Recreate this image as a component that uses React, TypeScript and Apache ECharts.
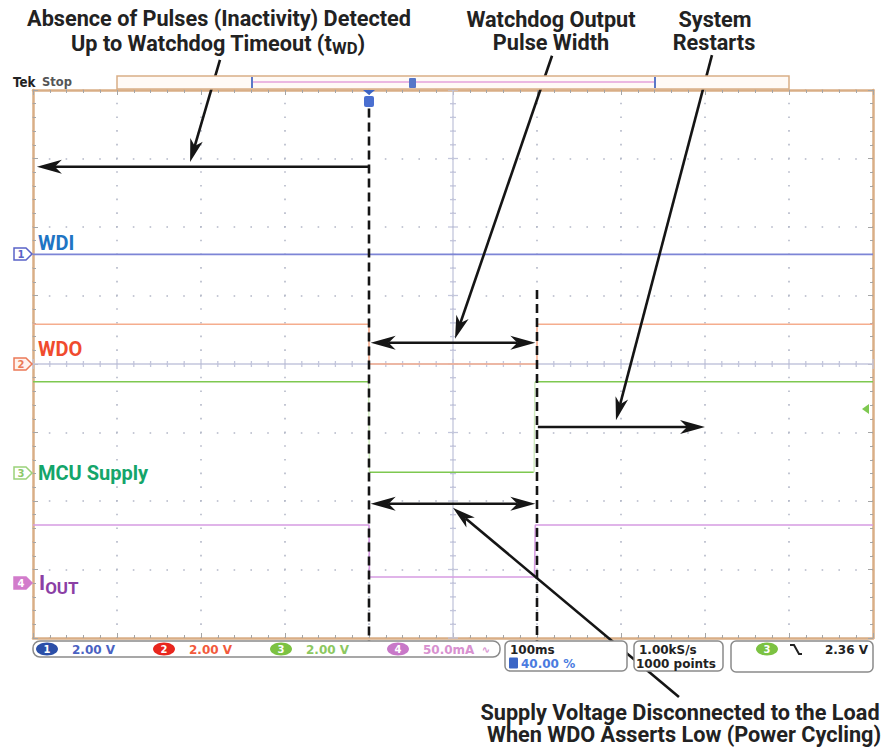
import React, { useEffect, useRef } from 'react';
import * as echarts from 'echarts';

// ---------------- data (time in ms, vertical position in screen divisions) ----------------
const timeMs = [0, 400, 400, 600, 600, 1000];
const wdiDiv = [1.6, 1.6, 1.6, 1.6, 1.6, 1.6];
const wdoDiv = [0.58, 0.58, 0, 0, 0.58, 0.58];
// MCU supply: flat levels (null = break) and its faint transition edges
const mcuTimeMs = [0, 399, null, 401, 596, null, 598, 1000];
const mcuDiv = [-0.26, -0.26, null, -1.58, -1.58, null, -0.26, -0.26];
const mcuEdgeTimeMs = [399.5, 400.5, null, 596.5, 597.5];
const mcuEdgeDiv = [-0.26, -1.58, null, -1.58, -0.26];
const ioutTimeMs = [0, 400, 400.5, 597, 598, 1000];
const ioutDiv = [-2.35, -2.35, -3.11, -3.11, -2.35, -2.35];

const channelNames = ['WDI', 'WDO', 'MCU Supply', 'IOUT'];
const channelScales = ['2.00 V', '2.00 V', '2.00 V', '50.0mA'];
const timebase = '100ms';
const triggerPos = '40.00 %';
const sampleRate = '1.00kS/s';
const recordLength = '1000 points';
const triggerLevel = '2.36 V';

// dashed markers (x in ms, y from/to in div)
const dashedX = [400, 600];
const dashedTop = [3.73, 1.08];
const dashedBottom = [-4.05, -4.05];

// arrows (ms, div)
const arrowFrom = [[400, 2.88], [402, 0.31], [402, -2.04], [601, -0.92], [222.6, 4.44], [617.9, 4.5], [808.3, 4.51], [769, -4.86]];
const arrowTo = [[4.6, 2.88], [598, 0.31], [598, -2.04], [800, -0.92], [187, 2.95], [502.4, 0.37], [694, -0.82], [500, -2.1]];
const arrowDouble = [0, 1, 1, 0, 0, 0, 0, 0];

const annoLines = [
  ['Absence of Pulses (Inactivity) Detected', 'Up to Watchdog Timeout (t'],
  ['Watchdog Output', 'Pulse Width'],
  ['System', 'Restarts'],
  ['Supply Voltage Disconnected to the Load', 'When WDO Asserts Low (Power Cycling)'],
];

// ---------------- styles ----------------
const FONT = 'Roboto';
const SCOPE_FONT = 'DejaVu Sans';
const borderColor = '#d9ae86';
const tickColor = '#a5a5a5';
const colWdiTrace = '#7d85d6';
const colWdoTrace = '#f5ad8e';
const colMcuTrace = '#7ec850';
const colMcuEdge = '#cfeabd';
const colIoutTrace = '#d69ce2';

function mkX(pos: string) {
  return {
    type: 'value', min: 0, max: 1000, interval: 100, position: pos, gridIndex: 0,
    axisLine: { show: true, onZero: false, lineStyle: { color: borderColor, width: 2.5 } },
    axisTick: { show: true, inside: true, length: 5, lineStyle: { color: tickColor, width: 1 } },
    minorTick: { show: true, splitNumber: 5, length: 3, lineStyle: { color: tickColor, width: 1 } },
    axisLabel: { show: false },
    splitLine: { show: pos === 'bottom', lineStyle: { color: '#b4b8c8', width: 1.6, type: [1.6, 12.1], dashOffset: 0.8 } },
  };
}
function mkY(pos: string) {
  return {
    type: 'value', min: -4, max: 4, interval: 1, position: pos, gridIndex: 0,
    axisLine: { show: true, onZero: false, lineStyle: { color: borderColor, width: 2.5 } },
    axisTick: { show: true, inside: true, length: 5, lineStyle: { color: tickColor, width: 1 } },
    minorTick: { show: true, splitNumber: 5, length: 3, lineStyle: { color: tickColor, width: 1 } },
    axisLabel: { show: false },
    splitLine: { show: pos === 'left', lineStyle: { color: '#b4b8c8', width: 1.6, type: [1.6, 15.2], dashOffset: 0.8 } },
  };
}

function zip(xs: (number | null)[], ys: (number | null)[]) {
  return xs.map((x, i) => (x === null || ys[i] === null ? [null, null] : [x, ys[i]]));
}

function renderGraticule(_p: any, api: any) {
  const c = (x: number, y: number) => api.coord([x, y]);
  const children: any[] = [];
  const lineCol = '#c3c6dc';
  const [x0, yc] = c(0, 0);
  const [x1] = c(1000, 0);
  const [xc, yTop] = c(500, 4);
  const [, yBot] = c(500, -4);
  children.push({ type: 'line', shape: { x1: x0, y1: yc, x2: x1, y2: yc }, style: { stroke: lineCol, lineWidth: 1.3 } });
  children.push({ type: 'line', shape: { x1: xc, y1: yTop, x2: xc, y2: yBot }, style: { stroke: lineCol, lineWidth: 1.3 } });
  for (let k = 0; k <= 50; k++) {
    const [px] = c(k * 20, 0);
    const len = k % 5 === 0 ? 5 : 3;
    children.push({ type: 'line', shape: { x1: px, y1: yc - len, x2: px, y2: yc + len }, style: { stroke: lineCol, lineWidth: 1.3 } });
  }
  for (let k = -20; k <= 20; k++) {
    const [, py] = c(500, k / 5);
    const len = k % 5 === 0 ? 5 : 3;
    children.push({ type: 'line', shape: { x1: xc - len, y1: py, x2: xc + len, y2: py }, style: { stroke: lineCol, lineWidth: 1.3 } });
  }
  return { type: 'group', children };
}

function head(tip: number[], from: number[], L: number, W: number) {
  const dx = tip[0] - from[0];
  const dy = tip[1] - from[1];
  const len = Math.hypot(dx, dy);
  const ux = dx / len, uy = dy / len;
  const px = -uy, py = ux;
  const bx = tip[0] - ux * L, by = tip[1] - uy * L;
  const nx = tip[0] - ux * L * 0.72, ny = tip[1] - uy * L * 0.72;
  return {
    poly: { type: 'polygon', shape: { points: [tip, [bx + px * W, by + py * W], [nx, ny], [bx - px * W, by - py * W]] }, style: { fill: '#151515' } },
    notch: [nx, ny],
  };
}

function renderAnnotations(_p: any, api: any) {
  const c = (x: number, y: number) => api.coord([x, y]);
  const children: any[] = [];
  dashedX.forEach((x, i) => {
    const a = c(x, dashedTop[i]);
    const b = c(x, dashedBottom[i]);
    children.push({ type: 'line', shape: { x1: a[0], y1: a[1], x2: b[0], y2: b[1] }, style: { stroke: '#151515', lineWidth: 2.6, lineDash: [9, 5] } });
  });
  arrowFrom.forEach((f, i) => {
    const from = c(f[0], f[1]);
    const to = c(arrowTo[i][0], arrowTo[i][1]);
    const horizontal = i < 4;
    const L = horizontal ? 25 : 23;
    const W = horizontal ? 7 : 6.5;
    const h1 = head(to, from, L, W);
    let start = from;
    if (arrowDouble[i]) {
      const h0 = head(from, to, L, W);
      children.push(h0.poly);
      start = h0.notch;
    }
    children.push({ type: 'line', shape: { x1: start[0], y1: start[1], x2: h1.notch[0], y2: h1.notch[1] }, style: { stroke: '#151515', lineWidth: 2.6 } });
    children.push(h1.poly);
  });
  return { type: 'group', children };
}

function txt(text: string, x: number, y: number, opts: any = {}) {
  return {
    type: 'text', x, y, silent: true, z: 100,
    scaleX: opts.scaleX ?? 1,
    style: {
      text, x: 0, y: 0,
      fill: opts.fill ?? '#222',
      fontFamily: opts.fontFamily ?? FONT,
      fontSize: opts.fontSize ?? 20,
      fontWeight: opts.fontWeight ?? 700,
      textAlign: opts.align ?? 'left',
      textVerticalAlign: 'middle',
      rich: opts.rich,
    },
  };
}

function chMarker(y: number, label: string, stroke: string, fill: string, textFill: string) {
  return [
    { type: 'polygon', z: 100, silent: true, shape: { points: [[14, y - 6], [26, y - 6], [32, y], [26, y + 6], [14, y + 6]] }, style: { fill, stroke, lineWidth: 1.5 } },
    txt(label, 21, y + 0.5, { fontFamily: SCOPE_FONT, fontSize: 10, fill: textFill, align: 'center' }),
  ];
}

function ell(cx: number, cy: number, fill: string, label: string) {
  return [
    { type: 'ellipse', z: 100, silent: true, shape: { cx, cy, rx: 11, ry: 6.5 }, style: { fill } },
    txt(label, cx, cy + 0.5, { fontFamily: SCOPE_FONT, fontSize: 10, fill: '#fff', align: 'center' }),
  ];
}

function buildOption() {
  const AS = 22;
  const annoScale = 0.985;
  const graphic: any[] = [
    // annotation texts
    txt(annoLines[0][0], 219, 18, { fontSize: AS, align: 'center', scaleX: annoScale }),
    txt(`{a|${annoLines[0][1]}}{s|WD}{a|)}`, 218, 43, {
      align: 'center', scaleX: annoScale,
      rich: { a: { fontSize: AS, fontWeight: 700, fontFamily: FONT, fill: '#222' }, s: { fontSize: 17, fontWeight: 700, fontFamily: FONT, fill: '#222', padding: [10, 0, 0, 0] } },
    }),
    txt(annoLines[1][0], 551, 19, { fontSize: AS, align: 'center', scaleX: annoScale }),
    txt(annoLines[1][1], 551, 42, { fontSize: AS, align: 'center', scaleX: annoScale }),
    txt(annoLines[2][0], 715, 19, { fontSize: AS, align: 'center', scaleX: annoScale }),
    txt(annoLines[2][1], 714, 42, { fontSize: AS, align: 'center', scaleX: annoScale }),
    txt(annoLines[3][0], 680, 712, { fontSize: AS, align: 'center', scaleX: annoScale }),
    txt(annoLines[3][1], 684, 734, { fontSize: AS, align: 'center', scaleX: annoScale }),
    // Tek Stop
    txt('Tek', 13, 82.5, { fontFamily: SCOPE_FONT, fontSize: 14, fill: '#222', scaleX: 0.85 }),
    txt('Stop', 42, 82, { fontFamily: SCOPE_FONT, fontSize: 11.5, fill: '#555', fontWeight: 700 }),
    // record bar
    { type: 'rect', z: 100, silent: true, shape: { x: 117, y: 76, width: 672, height: 13 }, style: { fill: '#fffaf6', stroke: borderColor, lineWidth: 1.5 } },
    { type: 'line', z: 101, silent: true, shape: { x1: 253, y1: 82, x2: 655, y2: 82 }, style: { stroke: '#e4a2db', lineWidth: 1.5 } },
    { type: 'line', z: 101, silent: true, shape: { x1: 252, y1: 77, x2: 252, y2: 88 }, style: { stroke: '#5b78c8', lineWidth: 2 } },
    { type: 'line', z: 101, silent: true, shape: { x1: 655, y1: 77, x2: 655, y2: 88 }, style: { stroke: '#5b78c8', lineWidth: 2 } },
    { type: 'rect', z: 101, silent: true, shape: { x: 409, y: 78, width: 7, height: 10, r: 1 }, style: { fill: '#5676c8' } },
    // trigger position marker
    { type: 'polygon', z: 101, silent: true, shape: { points: [[363, 90], [375, 90], [369, 95]] }, style: { fill: '#3d64c4' } },
    { type: 'rect', z: 101, silent: true, shape: { x: 364, y: 96, width: 10, height: 11, r: 2 }, style: { fill: '#4a6fd0' } },
    txt('T', 369, 102, { fontFamily: SCOPE_FONT, fontSize: 9, fill: '#fff', align: 'center' }),
    // channel labels
    txt(channelNames[0], 38, 243, { fontSize: 20, fill: '#1f75c4' }),
    txt(channelNames[1], 38, 349, { fontSize: 20, fill: '#f04b2e' }),
    txt(channelNames[2], 38, 473, { fontSize: 20, fill: '#14a56a' }),
    txt(`{a|I}{s|OUT}`, 39, 583, {
      rich: { a: { fontSize: 21, fontWeight: 700, fontFamily: FONT, fill: '#8b3fa5' }, s: { fontSize: 17, fontWeight: 700, fontFamily: FONT, fill: '#8b3fa5', padding: [9, 0, 0, 0] } },
    }),
    // channel ground markers
    ...chMarker(254, '1', '#5a63c8', '#ffffff', '#5a63c8'),
    ...chMarker(364, '2', '#ec7a58', '#fff3ee', '#ec7a58'),
    ...chMarker(473, '3', '#9ad27a', '#ffffff', '#8cc86a'),
    ...chMarker(583, '4', '#d27ccb', '#d27ccb', '#ffffff'),
    // trigger level marker (right edge)
    { type: 'polygon', z: 101, silent: true, shape: { points: [[862, 409], [869, 404], [869, 414]] }, style: { fill: '#7ec850' } },
    // readout bar
    { type: 'rect', z: 100, silent: true, shape: { x: 33, y: 641, width: 467, height: 16, r: 7 }, style: { fill: '#ffffff', stroke: '#8a8a8a', lineWidth: 1.5 } },
    ...ell(47, 649, '#2b4fa8', '1'),
    txt(channelScales[0], 72, 649.5, { fontFamily: SCOPE_FONT, fontSize: 12, fill: '#4a62c2' }),
    ...ell(164, 649, '#e8261e', '2'),
    txt(channelScales[1], 189, 649.5, { fontFamily: SCOPE_FONT, fontSize: 12, fill: '#f25a3c' }),
    ...ell(281, 649, '#7cc242', '3'),
    txt(channelScales[2], 306, 649.5, { fontFamily: SCOPE_FONT, fontSize: 12, fill: '#8cc860' }),
    ...ell(398, 649, '#c878c8', '4'),
    txt(channelScales[3], 423, 649.5, { fontFamily: SCOPE_FONT, fontSize: 12, fill: '#d891d0' }),
    txt('∿', 486, 649, { fontFamily: SCOPE_FONT, fontSize: 10, fill: '#d891d0', align: 'center' }),
    // timebase box
    { type: 'rect', z: 100, silent: true, shape: { x: 505, y: 641, width: 122, height: 30, r: 5 }, style: { fill: '#ffffff', stroke: '#8a8a8a', lineWidth: 1.5 } },
    txt(timebase, 510, 649.5, { fontFamily: SCOPE_FONT, fontSize: 12, fill: '#222' }),
    { type: 'rect', z: 101, silent: true, shape: { x: 509, y: 657.5, width: 9, height: 11, r: 1 }, style: { fill: '#3b66c6' } },
    txt('T', 513.5, 663.5, { fontFamily: SCOPE_FONT, fontSize: 9, fill: '#fff', align: 'center' }),
    txt(triggerPos, 521, 663.5, { fontFamily: SCOPE_FONT, fontSize: 12, fill: '#4a7be0' }),
    // acquisition box
    { type: 'rect', z: 100, silent: true, shape: { x: 634, y: 641, width: 89, height: 30, r: 5 }, style: { fill: '#ffffff', stroke: '#8a8a8a', lineWidth: 1.5 } },
    txt(sampleRate, 639, 649.5, { fontFamily: SCOPE_FONT, fontSize: 12, fill: '#222' }),
    txt(recordLength, 636, 663.5, { fontFamily: SCOPE_FONT, fontSize: 12, fill: '#222' }),
    // trigger box
    { type: 'rect', z: 100, silent: true, shape: { x: 731, y: 641, width: 142, height: 31, r: 5 }, style: { fill: '#ffffff', stroke: '#8a8a8a', lineWidth: 1.5 } },
    ...ell(767, 649, '#7cc242', '3'),
    { type: 'polyline', z: 101, silent: true, shape: { points: [[790, 645], [794, 645], [799, 654], [802, 654]] }, style: { stroke: '#222', lineWidth: 2, fill: null } },
    txt(triggerLevel, 868, 649.5, { fontFamily: SCOPE_FONT, fontSize: 12, fill: '#222', align: 'right' }),
  ];

  return {
    animation: false,
    backgroundColor: '#ffffff',
    grid: { left: 33, top: 90, width: 840, height: 548 },
    xAxis: [mkX('bottom'), mkX('top')],
    yAxis: [mkY('left'), mkY('right')],
    series: [
      { type: 'custom', silent: true, z: 1, data: [[0, 0]], renderItem: renderGraticule },
      { name: channelNames[0], type: 'line', z: 3, symbol: 'none', data: zip(timeMs, wdiDiv), lineStyle: { color: colWdiTrace, width: 1.6 } },
      { name: channelNames[1], type: 'line', z: 3, symbol: 'none', data: zip(timeMs, wdoDiv), lineStyle: { color: colWdoTrace, width: 1.6 } },
      { name: channelNames[2] + ' edges', type: 'line', z: 2, symbol: 'none', connectNulls: false, data: zip(mcuEdgeTimeMs, mcuEdgeDiv), lineStyle: { color: colMcuEdge, width: 1.4 } },
      { name: channelNames[2], type: 'line', z: 3, symbol: 'none', connectNulls: false, data: zip(mcuTimeMs, mcuDiv), lineStyle: { color: colMcuTrace, width: 1.6 } },
      { name: channelNames[3], type: 'line', z: 3, symbol: 'none', data: zip(ioutTimeMs, ioutDiv), lineStyle: { color: colIoutTrace, width: 1.6 } },
      { type: 'custom', silent: true, z: 10, data: [[0, 0]], renderItem: renderAnnotations },
    ],
    graphic,
  };
}

export default function App() {
  const ref = useRef<HTMLDivElement>(null);
  useEffect(() => {
    document.body.style.margin = '0';
    const chart = echarts.init(ref.current!, null, { renderer: 'svg' });
    chart.setOption(buildOption() as any);
    return () => chart.dispose();
  }, []);
  return <div ref={ref} style={{ position: 'absolute', left: 0, top: 0, width: 885, height: 747, background: '#fff' }} />;
}
